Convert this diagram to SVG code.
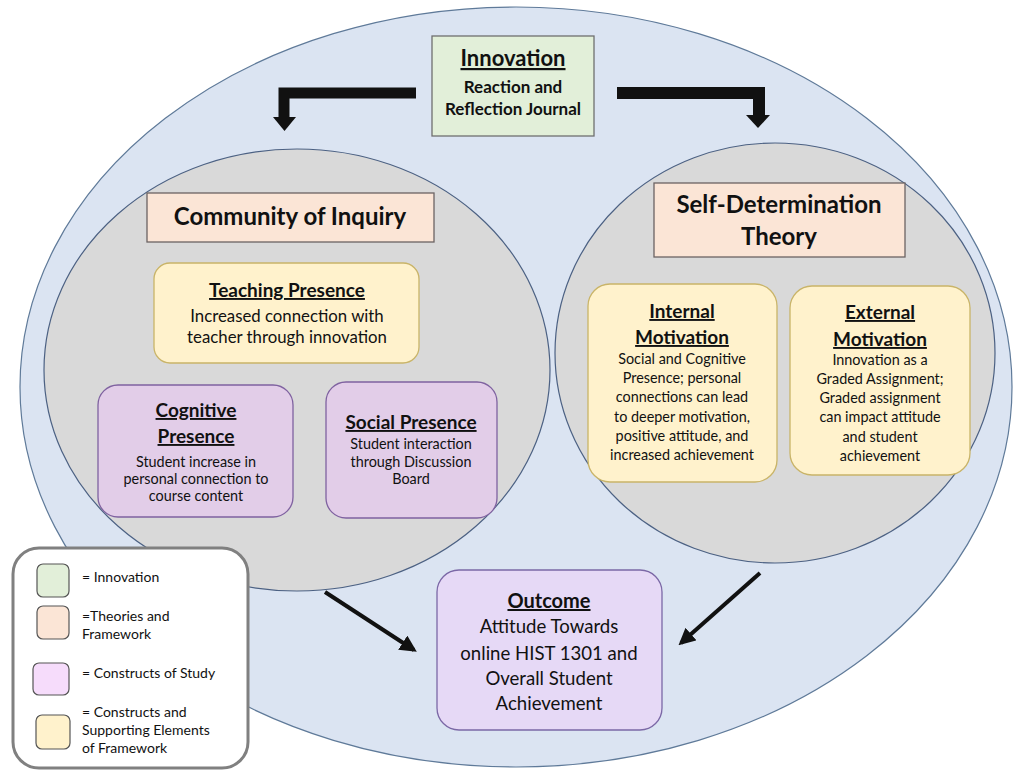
<svg xmlns="http://www.w3.org/2000/svg" width="1015" height="772" viewBox="0 0 1015 772">
  <style>
    text { font-family: Lato, "Open Sans", "Liberation Sans", sans-serif; fill: #111; text-anchor: middle; }
    .h { font-weight: bold; text-decoration: underline; font-size: 19px; }
    .t { font-weight: bold; font-size: 24px; }
    .b { font-size: 14.4px; }
    .bm { font-size: 16.8px; }
    .ob { font-size: 18.6px; }
    .lg { font-size: 14px; text-anchor: start; }
    .green { fill: #e2efd9; stroke: #6f6f6f; stroke-width: 1.3; }
    .peach { fill: #fbe5d6; stroke: #6b6363; stroke-width: 1.3; }
    .yellow { fill: #fff2cc; stroke: #c9b468; stroke-width: 1.3; }
    .orchid { fill: #e2cde8; stroke: #7f62a0; stroke-width: 1.3; }
    .lav { fill: #e6d9f6; stroke: #7b68a6; stroke-width: 1.3; }
    .conn { stroke: #111; stroke-width: 4; fill: none; }
  </style>
  <defs>
    <marker id="ah" viewBox="0 0 10 10" refX="8" refY="5" markerWidth="4.2" markerHeight="4.2" orient="auto">
      <path d="M0,0 L10,5 L0,10 z" fill="#111"/>
    </marker>
  </defs>

  <rect width="1015" height="772" fill="#ffffff"/>

  <!-- background regions -->
  <g id="outer">
    <ellipse cx="516" cy="387" rx="496" ry="380" fill="#dbe4f2" stroke="#5f7a99" stroke-width="1.2"/>
  </g>
  <g id="coi-circle">
    <ellipse cx="297" cy="370" rx="253" ry="221" fill="#d9d9d9" stroke="#4c6183" stroke-width="1.2"/>
  </g>
  <g id="sdt-circle">
    <ellipse cx="775" cy="353" rx="220" ry="210" fill="#d9d9d9" stroke="#4c6183" stroke-width="1.2"/>
  </g>

  <!-- connectors -->
  <g id="connectors">
    <path d="M416,93 H284 V118" stroke="#111" stroke-width="11" fill="none"/>
    <path d="M273,117 L296,117 L284.5,131 z" fill="#111"/>
    <path d="M617,93 H759 V116" stroke="#111" stroke-width="12" fill="none"/>
    <path d="M746,115 L770,115 L758,128 z" fill="#111"/>
    <line class="conn" x1="325" y1="592" x2="414" y2="650" marker-end="url(#ah)"/>
    <line class="conn" x1="760" y1="573" x2="681" y2="643" marker-end="url(#ah)"/>
  </g>

  <g id="innovation">
    <rect class="green" x="432" y="36" width="162" height="100"/>
    <text x="513" y="66" class="h" style="font-size:22px">Innovation</text>
    <text x="513" y="93" style="font-weight:bold;font-size:17px">Reaction and</text>
    <text x="513" y="115" style="font-weight:bold;font-size:17px">Reflection Journal</text>
  </g>

  <g id="community-of-inquiry">
    <rect class="peach" x="147" y="193" width="287" height="49"/>
    <text x="290" y="225" class="t">Community of Inquiry</text>
  </g>

  <g id="teaching-presence">
    <rect class="yellow" x="154" y="263" width="265" height="100" rx="16"/>
    <text x="287" y="297" class="h">Teaching Presence</text>
    <text x="287" y="322" class="bm">Increased connection with</text>
    <text x="287" y="343" class="bm">teacher through innovation</text>
  </g>

  <g id="cognitive-presence">
    <rect class="orchid" x="98" y="385" width="195" height="132" rx="20"/>
    <text x="196" y="417" class="h">Cognitive</text>
    <text x="196" y="443" class="h">Presence</text>
    <text x="196" y="467" class="b">Student increase in</text>
    <text x="196" y="484" class="b">personal connection to</text>
    <text x="196" y="501" class="b">course content</text>
  </g>

  <g id="social-presence">
    <rect class="orchid" x="326" y="382" width="171" height="136" rx="20"/>
    <text x="411" y="429" class="h">Social Presence</text>
    <text x="411" y="449" class="b">Student interaction</text>
    <text x="411" y="467" class="b">through Discussion</text>
    <text x="411" y="484" class="b">Board</text>
  </g>

  <g id="self-determination-theory">
    <rect class="peach" x="654" y="183" width="251" height="74"/>
    <text x="779" y="213" class="t">Self-Determination</text>
    <text x="779" y="245" class="t">Theory</text>
  </g>

  <g id="internal-motivation">
    <rect class="yellow" x="588" y="284" width="189" height="198" rx="22"/>
    <text x="682" y="318" class="h">Internal</text>
    <text x="682" y="344" class="h">Motivation</text>
    <text x="682" y="364" class="b">Social and Cognitive</text>
    <text x="682" y="383" class="b">Presence; personal</text>
    <text x="682" y="402" class="b">connections can lead</text>
    <text x="682" y="422" class="b">to deeper motivation,</text>
    <text x="682" y="441" class="b">positive attitude, and</text>
    <text x="682" y="460" class="b">increased achievement</text>
  </g>

  <g id="external-motivation">
    <rect class="yellow" x="790" y="286" width="180" height="189" rx="22"/>
    <text x="880" y="319" class="h">External</text>
    <text x="880" y="346" class="h">Motivation</text>
    <text x="880" y="365" class="b">Innovation as a</text>
    <text x="880" y="384" class="b">Graded Assignment;</text>
    <text x="880" y="403" class="b">Graded assignment</text>
    <text x="880" y="422" class="b">can impact attitude</text>
    <text x="880" y="442" class="b">and student</text>
    <text x="880" y="461" class="b">achievement</text>
  </g>

  <g id="outcome">
    <rect class="lav" x="437" y="570" width="225" height="160" rx="22"/>
    <text x="549" y="608" class="h" style="font-size:20px">Outcome</text>
    <text x="549" y="633" class="ob">Attitude Towards</text>
    <text x="549" y="660" class="ob">online HIST 1301 and</text>
    <text x="549" y="685" class="ob">Overall Student</text>
    <text x="549" y="710" class="ob">Achievement</text>
  </g>

  <g id="legend">
    <rect x="13" y="548" width="235" height="220" rx="26" fill="#ffffff" stroke="#808080" stroke-width="3"/>
    <rect x="37" y="564" width="32" height="33" rx="6" fill="#e2efd9" stroke="#555" stroke-width="1.2"/>
    <rect x="37" y="606" width="32" height="33" rx="6" fill="#fbe5d6" stroke="#555" stroke-width="1.2"/>
    <rect x="33" y="663" width="36" height="32" rx="6" fill="#f6dcfb" stroke="#555" stroke-width="1.2"/>
    <rect x="36" y="715" width="34" height="34" rx="6" fill="#fff2cc" stroke="#555" stroke-width="1.2"/>
    <text x="82" y="582" class="lg">= Innovation</text>
    <text x="82" y="621" class="lg">=Theories and</text>
    <text x="82" y="639" class="lg">Framework</text>
    <text x="82" y="678" class="lg">= Constructs of Study</text>
    <text x="82" y="717" class="lg">= Constructs and</text>
    <text x="82" y="735" class="lg">Supporting Elements</text>
    <text x="82" y="753" class="lg">of Framework</text>
  </g>
</svg>
